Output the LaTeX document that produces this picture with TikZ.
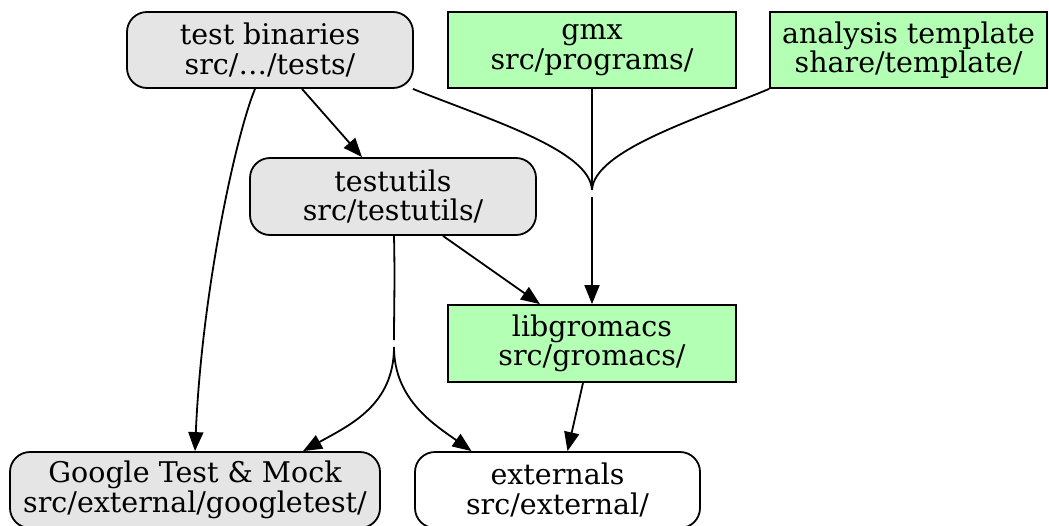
\documentclass[tikz,border=0pt]{standalone}
\usepackage{fontspec}
\setmainfont{DejaVu Serif}
\usetikzlibrary{arrows.meta,calc}
\definecolor{boxgray}{HTML}{E5E5E5}
\definecolor{boxgreen}{HTML}{B3FFB3}
\begin{document}
\begin{tikzpicture}[x=1pt,y=-1pt,
  every node/.style={font=\fontsize{28.5}{29.5}\selectfont, align=center, inner sep=0pt, line width=1.8pt, draw},
  rbox/.style={rounded corners=20pt, fill=boxgray},
  wbox/.style={rounded corners=20pt, fill=white},
  gbox/.style={fill=boxgreen},
  edge/.style={line width=1.8pt},
  arr/.style={edge, -{Triangle[length=19pt,width=15pt]}}]
\useasboundingbox (0,0) rectangle (1049,525);
\clip (0,0) rectangle (1049,525);
\node[rbox, minimum width=286pt, minimum height=76pt] (tb) at (270,50) {test binaries\\src/…/tests/};
\node[gbox, minimum width=288pt, minimum height=76pt] (gmx) at (592,50) {gmx\\src/programs/};
\node[gbox, minimum width=277pt, minimum height=76pt] (at) at (908.5,50) {analysis template\\share/template/};
\node[rbox, minimum width=286pt, minimum height=77pt] (tu) at (393,196.5) {testutils\\src/testutils/};
\node[gbox, minimum width=288pt, minimum height=77pt] (lib) at (592,343.5) {libgromacs\\src/gromacs/};
\node[rbox, minimum width=370pt, minimum height=76pt] (gt) at (195,490) {Google Test \& Mock\\src/external/googletest/};
\node[wbox, minimum width=285pt, minimum height=76pt] (ext) at (557.5,490) {externals\\src/external/};
\coordinate (j1) at (592,190);
\coordinate (j1b) at (592,197);
\coordinate (j2) at (394,340);
\coordinate (j2b) at (394,347);
% edges
\draw[arr] ([xshift=-15pt]tb.south) .. controls (236,135) and (202,290) .. (gt.north);
\draw[arr] ([xshift=32pt]tb.south) -- ([xshift=-31pt]tu.north);
\draw[edge] ([xshift=-1pt]tb.south east) .. controls (490,120) and (590,150) .. (j1);
\draw[edge] (gmx.south) -- (j1);
\draw[edge] (at.south west) .. controls (700,118) and (594,150) .. (j1);
\draw[arr] (j1b) -- (lib.north);
\draw[arr] ([xshift=50pt]tu.south) -- ([xshift=-52pt]lib.north);
\draw[edge] ([xshift=1pt]tu.south) .. controls (395,280) and (394,310) .. (j2);
\draw[arr] (j2b) .. controls (394,405) and (350,425) .. ([xshift=108pt]gt.north);
\draw[arr] (j2b) .. controls (394,400) and (435,425) .. ([xshift=-86pt]ext.north);
\draw[arr] ([xshift=-9pt]lib.south) -- ([xshift=10pt]ext.north);
\end{tikzpicture}
\end{document}
